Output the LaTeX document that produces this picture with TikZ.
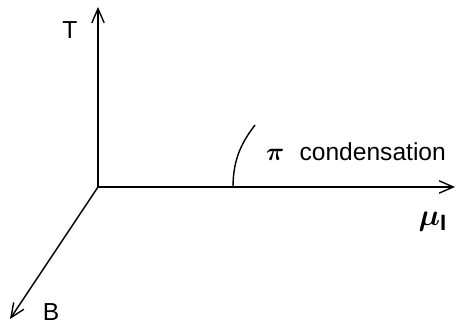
\documentclass[tikz,border=0pt]{standalone}
\usepackage{fontspec}
\usepackage{amsmath}
\usepackage{bm}
\setmainfont{Liberation Sans}
\usetikzlibrary{arrows.meta}

\begin{document}
\begin{tikzpicture}[x=0.02cm, y=0.02cm,
    axis/.style={thick, -{Straight Barb[length=8pt, width=7pt]}},
    lbl/.style={font=\fontsize{14}{16}\selectfont}]
    \useasboundingbox (0,0) rectangle (456,324);

    % 原点与坐标轴端点
    \coordinate (O) at (98,137);
    \coordinate (Ttip) at (98,317);
    \coordinate (Mtip) at (455,137);
    \coordinate (Btip) at (10,5);

    % 坐标轴
    \draw[axis] (O) -- (Ttip);
    \draw[axis] (O) -- (Mtip);
    \draw[axis] (O) -- (Btip);

    % 轴标签
    \node[lbl] (T) at (70,294) {T};
    \node[lbl] (B) at (51,12) {B};
    \node[font=\fontsize{18}{20}\selectfont] (mu) at (433,102) {$\bm{\mu}_{\mathbf{I}}$};

    % 相边界
    \coordinate (c0) at (233,137);
    \coordinate (c1) at (255,199);
    \draw[thick] (c0) .. controls (233,165) and (242,182) .. (c1);
    \node[lbl] (pi) at (356,172) {\Large$\bm{\pi}$\hspace{0.6em}\fontsize{14}{16}\selectfont condensation};
\end{tikzpicture}
\end{document}
